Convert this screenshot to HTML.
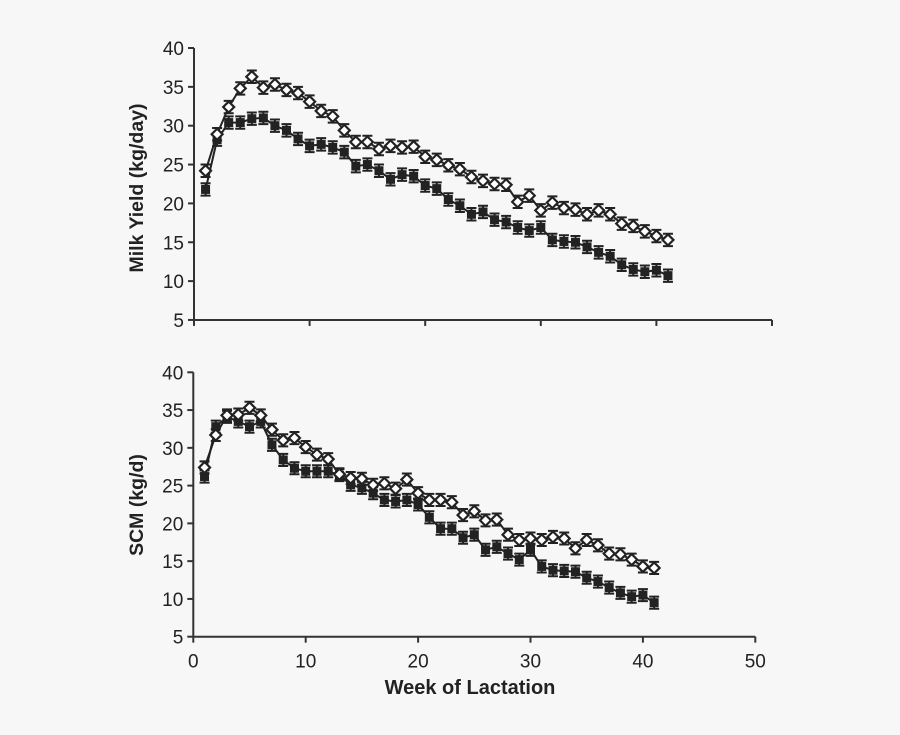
<!DOCTYPE html>
<html><head><meta charset="utf-8"><style>
html,body{margin:0;padding:0;background:#f7f7f7;}
svg{display:block;font-family:"Liberation Sans",Arial,sans-serif;}
</style></head><body>
<svg id="chart" width="900" height="735" viewBox="0 0 900 735">
<rect width="900" height="735" fill="#f7f7f7"/>
</svg>
<script>
const weeks=[1,2,3,4,5,6,7,8,9,10,11,12,13,14,15,16,17,18,19,20,21,22,23,24,25,26,27,28,29,30,31,32,33,34,35,36,37,38,39,40,41];
const milkOpen=[24.2,28.9,32.4,34.8,36.3,34.9,35.3,34.6,34.2,33.1,31.9,31.2,29.4,27.9,27.9,27.0,27.4,27.2,27.3,26.0,25.6,24.9,24.4,23.4,22.9,22.5,22.4,20.2,21.0,19.1,20.1,19.4,19.2,18.6,19.1,18.6,17.4,17.1,16.4,15.8,15.3];
const milkFilled=[21.8,28.2,30.4,30.4,30.9,31.0,30.0,29.4,28.3,27.4,27.6,27.2,26.6,24.8,25.0,24.2,23.1,23.7,23.5,22.3,21.9,20.5,19.7,18.6,18.9,17.9,17.6,16.9,16.5,16.9,15.3,15.1,15.0,14.4,13.7,13.2,12.1,11.5,11.2,11.4,10.7];
const scmOpen=[27.4,31.7,34.3,34.4,35.3,34.3,32.4,31.0,31.3,30.1,29.1,28.5,26.5,26.0,25.9,25.1,25.3,24.6,25.8,24.0,23.1,23.1,22.8,21.1,21.6,20.4,20.5,18.5,17.8,18.0,17.8,18.2,18.0,16.7,17.8,17.1,16.0,15.9,15.2,14.3,14.1];
const scmFilled=[26.2,32.8,34.1,33.5,32.8,33.5,30.4,28.4,27.3,26.9,26.9,26.9,26.4,25.1,24.7,24.0,23.1,22.9,23.1,22.5,20.8,19.3,19.3,18.1,18.5,16.5,16.9,16.0,15.2,16.5,14.3,13.8,13.7,13.6,12.8,12.3,11.5,10.8,10.3,10.5,9.5];
const yTicks=[5,10,15,20,25,30,35,40];
const xTicks=[0,10,20,30,40,50];
const errBar=0.8;

const NS="http://www.w3.org/2000/svg";
const svg=document.getElementById('chart');
function mk(tag,attrs,parent){const e=document.createElementNS(NS,tag);for(const k in attrs)e.setAttribute(k,attrs[k]);(parent||svg).appendChild(e);return e;}

function panel(cfg){
  const g=mk('g',{});
  
  
  const dx=v=>cfg.x0+v*cfg.xs;
  const ax=v=>cfg.x0+v*cfg.axs;
  const y=v=>cfg.y40+(40-v)*cfg.ys;
  const base=y(5);
  const yl=mk('line',{x1:cfg.x0,y1:y(40),x2:cfg.x0,y2:base,stroke:'#333','stroke-width':2},g);
  
  
  const xl=mk('line',{x1:cfg.x0,y1:base,x2:ax(50),y2:base,stroke:'#333','stroke-width':2},g);
  
  
  yTicks.forEach(t=>{
    mk('line',{x1:cfg.x0-6,y1:y(t),x2:cfg.x0,y2:y(t),stroke:'#333','stroke-width':2},g);
    const tx=mk('text',{x:cfg.x0-10,y:y(t)+7,'text-anchor':'end','font-size':19,fill:'#222'},g);
    tx.textContent=t;
    
    
  });
  xTicks.forEach(t=>{
    mk('line',{x1:ax(t),y1:base,x2:ax(t),y2:base+6,stroke:'#333','stroke-width':2},g);
    if(cfg.xlabels){
      const tx=mk('text',{x:ax(t),y:base+31,'text-anchor':'middle','font-size':19,fill:'#222'},g);
      tx.textContent=t;
      
      
    }
  });
  const tt=mk('text',{x:0,y:0,'text-anchor':'middle','font-size':19.5,'font-weight':'bold',fill:'#222',transform:`translate(${cfg.titleX},${cfg.titleY}) rotate(-90)`},g);
  tt.textContent=cfg.title;
  
  
  function series(vals,open,nm){
    const sg=mk('g',{},g);
    
    
    const pts=vals.map((v,i)=>dx(weeks[i]).toFixed(1)+','+y(v).toFixed(1)).join(' ');
    mk('polyline',{points:pts,fill:'none',stroke:'#222','stroke-width':2},sg);
    vals.forEach((v,i)=>{
      const X=dx(weeks[i]),Y1=y(v+errBar),Y2=y(v-errBar);
      mk('path',{d:`M${X},${Y1}V${Y2}M${X-5},${Y1}H${X+5}M${X-5},${Y2}H${X+5}`,stroke:'#222','stroke-width':2,fill:'none'},sg);
      let m;
      if(open){m=mk('path',{d:`M${X},${y(v)-5.5}L${X+5.5},${y(v)}L${X},${y(v)+5.5}L${X-5.5},${y(v)}Z`,fill:'#fff',stroke:'#222','stroke-width':2.2},sg);}
      else{m=mk('rect',{x:X-4.5,y:y(v)-4.5,width:9,height:9,fill:'#222'},sg);}
      
      
    });
  }
  series(cfg.filled,false,'series-filled');
  series(cfg.open,true,'series-open');
}
panel({name:'milk-yield-panel',x0:194,xs:11.56,axs:11.56,y40:48,ys:7.77,title:'Milk Yield (kg/day)',titleX:143,titleY:188,open:milkOpen,filled:milkFilled,xlabels:false});
panel({name:'scm-panel',x0:193.3,xs:11.24,axs:11.24,y40:372.3,ys:7.554,title:'SCM (kg/d)',titleX:143,titleY:505,open:scmOpen,filled:scmFilled,xlabels:true});
const xt=mk('text',{x:470,y:694,'text-anchor':'middle','font-size':20,'font-weight':'bold',fill:'#222'});
xt.textContent='Week of Lactation';


</script>
</body></html>
